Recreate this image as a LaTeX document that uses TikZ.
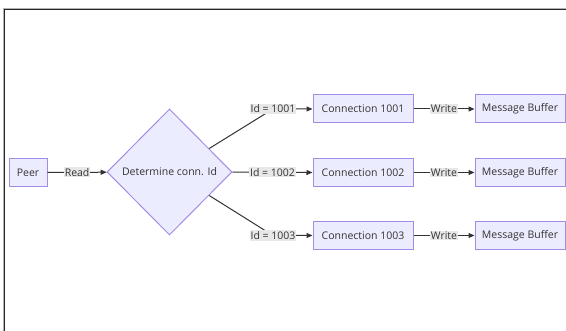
\documentclass[tikz,border=0pt]{standalone}
\usepackage{fontspec}
\setmainfont{Open Sans}
\usetikzlibrary{shapes.geometric,arrows.meta,calc}
\definecolor{nfill}{HTML}{ECECFF}
\definecolor{nline}{HTML}{A48BE6}
\definecolor{edgec}{HTML}{333333}
\definecolor{lblc}{HTML}{E8E8E8}
\definecolor{txtc}{HTML}{333333}
\begin{document}
\begin{tikzpicture}[x=1pt,y=-1pt,
  font=\fontsize{10.5}{12}\selectfont,
  box/.style={draw=nline, fill=nfill, line width=1pt, inner sep=0pt, minimum height=28pt, text=txtc},
  elabel/.style={fill=lblc, inner sep=1pt, text=txtc},
  link/.style={draw=edgec, line width=1pt, -{Triangle[length=6pt,width=5pt]}},
]
\useasboundingbox (0,0) rectangle (566,331);
% frame
\draw[black!30, line width=1pt] (3,331) -- (3,8.5) -- (566,8.5);
\draw[black!85, line width=1pt] (4.5,331) -- (4.5,10) -- (566,10);
% nodes
\node[box, minimum width=38pt] (peer) at (28,172.5) {Peer};
\node[diamond, aspect=1, draw=nline, fill=nfill, line width=1pt, minimum width=125pt, minimum height=126pt, inner sep=0pt, text=txtc] (d) at (169.5,172) {Determine conn. Id};
\node[box, minimum width=100pt] (c1) at (363,109) {Connection 1001};
\node[box, minimum width=100pt] (c2) at (363,172.5) {Connection 1002};
\node[box, minimum width=100pt] (c3) at (363,235.5) {Connection 1003};
\node[box, minimum width=90pt] (m1) at (520,109) {Message Buffer};
\node[box, minimum width=90pt] (m2) at (520,172.5) {Message Buffer};
\node[box, minimum width=90pt] (m3) at (520,235.5) {Message Buffer};
% connectors
\draw[link] (peer) -- node[elabel]{Read} (d);
\draw[link] ($(d.north)!0.63!(d.east)$) -- (273,109) node[elabel]{Id = 1001} -- (c1.west);
\draw[link] (d.east) -- node[elabel]{Id = 1002} (c2.west);
\draw[link] ($(d.south)!0.63!(d.east)$) -- (273,235.5) node[elabel]{Id = 1003} -- (c3.west);
\draw[link] (c1) -- node[elabel]{Write} (m1);
\draw[link] (c2) -- node[elabel]{Write} (m2);
\draw[link] (c3) -- node[elabel]{Write} (m3);
\end{tikzpicture}
\end{document}
